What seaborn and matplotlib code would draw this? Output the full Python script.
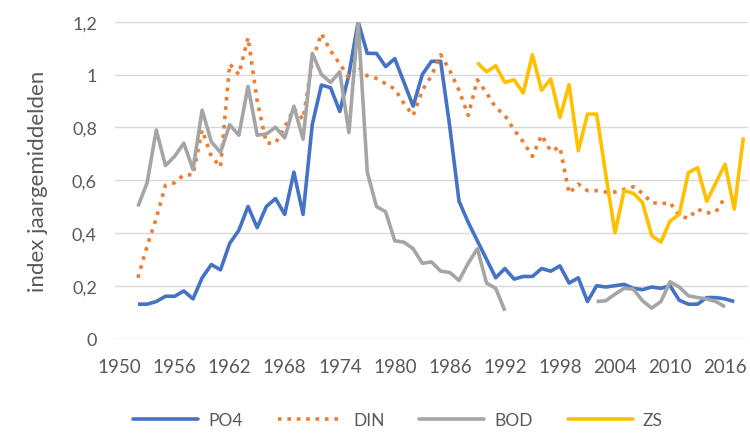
import numpy as np
import pandas as pd
import matplotlib
matplotlib.use("Agg")
import matplotlib.pyplot as plt
import seaborn as sns
from matplotlib.lines import Line2D
from matplotlib.ticker import FixedLocator, FuncFormatter

# ---------------- data ----------------
po4_years = list(range(1952, 2018))
po4 = [0.13, 0.13, 0.14, 0.16, 0.16, 0.18, 0.15, 0.23, 0.28, 0.26,
       0.36, 0.41, 0.50, 0.42, 0.50, 0.53, 0.47, 0.63, 0.47, 0.81,
       0.96, 0.95, 0.86, 1.00, 1.20, 1.08, 1.08, 1.03, 1.06, 0.97,
       0.88, 1.00, 1.05, 1.05, 0.80, 0.52, 0.44, 0.37, 0.30, 0.23,
       0.265, 0.225, 0.235, 0.235, 0.265, 0.255, 0.275, 0.21, 0.23, 0.14,
       0.20, 0.195, 0.20, 0.205, 0.19, 0.185, 0.195, 0.19, 0.20, 0.145,
       0.13, 0.13, 0.155, 0.155, 0.15, 0.14]

din_years = list(range(1952, 2017))
din = [0.23, 0.35, 0.455, 0.58, 0.59, 0.62, 0.62, 0.79, 0.69, 0.65,
       1.04, 1.00, 1.14, 0.90, 0.74, 0.74, 0.80, 0.87, 0.83, 1.05,
       1.155, 1.09, 1.04, 0.99, 1.03, 0.995, 0.985, 0.965, 0.945, 0.89,
       0.845, 0.94, 0.995, 1.075, 1.015, 0.94, 0.845, 0.98, 0.93, 0.875,
       0.845, 0.79, 0.745, 0.69, 0.77, 0.71, 0.725, 0.55, 0.585, 0.56,
       0.56, 0.555, 0.555, 0.565, 0.575, 0.55, 0.515, 0.51, 0.515, 0.465,
       0.455, 0.49, 0.475, 0.48, 0.535]

bod_years_a = list(range(1952, 1993))
bod_a = [0.50, 0.59, 0.79, 0.655, 0.69, 0.74, 0.64, 0.865, 0.745, 0.705,
         0.81, 0.77, 0.955, 0.77, 0.775, 0.80, 0.76, 0.88, 0.755, 1.08,
         1.00, 0.97, 1.01, 0.78, 1.20, 0.63, 0.50, 0.48, 0.37, 0.365,
         0.34, 0.285, 0.29, 0.255, 0.25, 0.22, 0.285, 0.34, 0.21, 0.19,
         0.105]
bod_years_b = list(range(2002, 2017))
bod_b = [0.14, 0.143, 0.168, 0.19, 0.187, 0.143, 0.115, 0.14, 0.215, 0.195,
         0.162, 0.155, 0.15, 0.14, 0.12]

zs_years = list(range(1989, 2019))
zs = [1.045, 1.01, 1.033, 0.97, 0.98, 0.93, 1.075, 0.94, 0.983, 0.837,
      0.962, 0.711, 0.85, 0.85, 0.62, 0.40, 0.56, 0.55, 0.515, 0.39,
      0.365, 0.445, 0.47, 0.628, 0.647, 0.52, 0.59, 0.66, 0.49, 0.762]

series_names = ["PO4", "DIN", "BOD", "ZS"]
colors = {"PO4": "#4472C4", "DIN": "#ED7D31", "BOD": "#A5A5A5", "ZS": "#FFC000"}
x_tick_years = list(range(1950, 2017, 6))
y_ticks = [0, 0.2, 0.4, 0.6, 0.8, 1.0, 1.2]
y_label = "index jaargemiddelden"

# ---------------- frames ----------------
frames = {
    "PO4": pd.DataFrame({"year": po4_years, "value": po4, "seg": 0}),
    "DIN": pd.DataFrame({"year": din_years, "value": din, "seg": 0}),
    "BOD": pd.concat([
        pd.DataFrame({"year": bod_years_a, "value": bod_a, "seg": 0}),
        pd.DataFrame({"year": bod_years_b, "value": bod_b, "seg": 1}),
    ], ignore_index=True),
    "ZS": pd.DataFrame({"year": zs_years, "value": zs, "seg": 0}),
}

# ---------------- plot ----------------
sns.set_theme(style="white")
plt.rcParams['font.family'] = ['Lato', 'DejaVu Sans']

W, H = 750, 435
fig = plt.figure(figsize=(7.5, 4.35), dpi=100)
ax = fig.add_axes([115 / W, (H - 339.5) / H, 633 / W, (339.5 - 22.7) / H])

LW = 2.6
din_ls = (0, (1.0, 1.6))
for name in series_names:
    kws = dict(color=colors[name], lw=LW, solid_joinstyle="round",
               solid_capstyle="butt")
    if name == "DIN":
        kws = dict(color=colors[name], lw=LW, linestyle=din_ls,
                   dash_capstyle="butt")
    sns.lineplot(data=frames[name], x="year", y="value", units="seg",
                 estimator=None, ax=ax, legend=False, **kws)

ax.set_xlim(1949.5, 2018.5)
ax.set_ylim(0, 1.2)
ax.xaxis.set_major_locator(FixedLocator(x_tick_years))
ax.set_xticklabels([str(y) for y in x_tick_years])
ax.yaxis.set_major_locator(FixedLocator(y_ticks))
ax.yaxis.set_major_formatter(FuncFormatter(
    lambda v, p: (f"{round(v, 1):g}").replace(".", ",")))
ax.set_xlabel("")
ax.set_ylabel("")
ax.yaxis.grid(True, color="#d9d9d9", lw=1.0)
ax.xaxis.grid(False)
ax.set_axisbelow(True)
for s in ax.spines.values():
    s.set_visible(False)
ax.tick_params(axis="both", length=0, colors="#595959")
ax.tick_params(axis="x", pad=14, labelsize=13.5)
ax.tick_params(axis="y", pad=13, labelsize=13)

fig.text(38 / W, 1 - 181 / H, y_label, rotation=90, ha="center", va="center",
         fontsize=16, color="#595959")

handles = []
for name in series_names:
    if name == "DIN":
        h = Line2D([], [], color=colors[name], lw=LW, linestyle=din_ls,
                   dash_capstyle="butt")
    else:
        h = Line2D([], [], color=colors[name], lw=LW)
    handles.append(h)
fig.legend(handles, series_names, loc="center",
           bbox_to_anchor=(398 / W, (H - 421) / H), ncol=4, frameon=False,
           handlelength=3.75, handletextpad=0.58, columnspacing=2.0,
           fontsize=12.5, labelcolor="#595959")

fig.savefig("out.png", dpi=100)
